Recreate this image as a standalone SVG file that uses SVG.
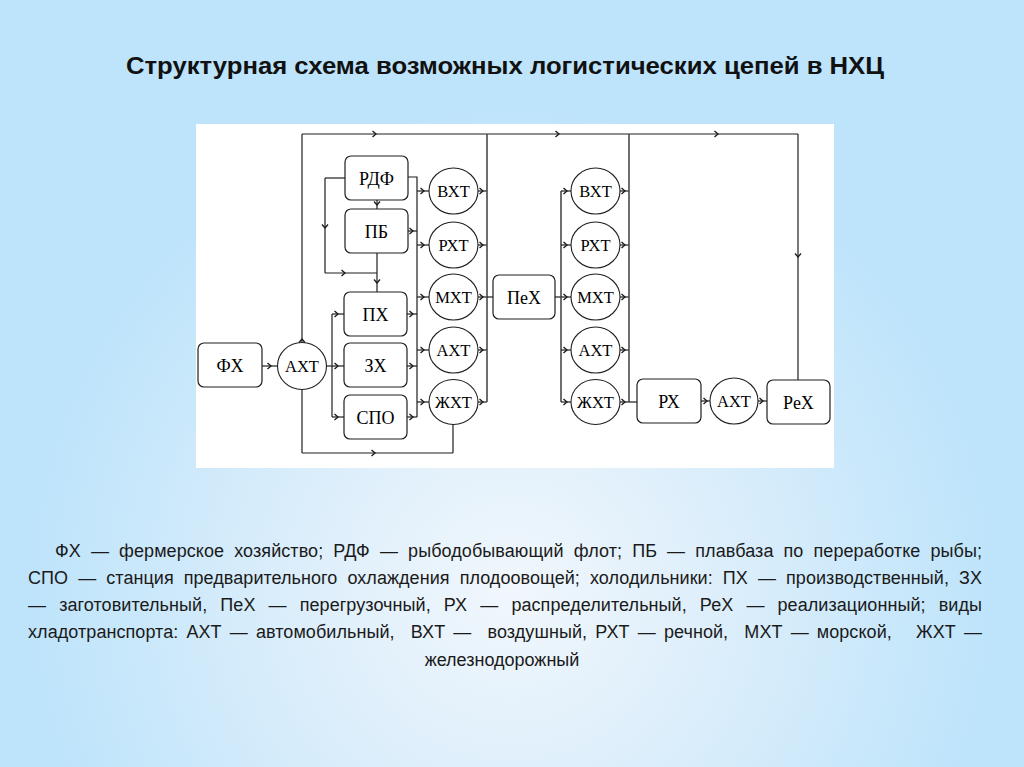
<svg xmlns="http://www.w3.org/2000/svg" width="1024" height="767" viewBox="0 0 1024 767">
<defs>
<radialGradient id="bg" gradientUnits="userSpaceOnUse" cx="512" cy="590" r="480">
<stop offset="0" stop-color="#F1F7FC"/>
<stop offset="0.45" stop-color="#DCEEFB"/>
<stop offset="1" stop-color="#BEE4FB"/>
</radialGradient>
<marker id="ar" viewBox="0 0 8 8" refX="5" refY="4" markerWidth="8" markerHeight="8" markerUnits="userSpaceOnUse" orient="auto">
<path d="M1.5,1 L5,4 L1.5,7" fill="none" stroke="#1a1a1a" stroke-width="1.3"/>
</marker>
<style>
.c{fill:none;stroke:#1f1f1f;stroke-width:1.2}
.m{fill:none;stroke:#1f1f1f;stroke-width:1.2;marker-mid:url(#ar)}
.g{fill:none;stroke:#4a4a4a;stroke-width:1.6}
.box{fill:#fff;stroke:#1f1f1f;stroke-width:1.2}
.cir{fill:#fff;stroke:#1f1f1f;stroke-width:1.1}
.bt{font-family:"Liberation Serif","Times New Roman",serif;font-size:18px;fill:#000;text-anchor:middle}
.ct{font-family:"Liberation Serif","Times New Roman",serif;font-size:16.5px;fill:#000;text-anchor:middle}
.lg{font-family:"Liberation Sans",Arial,sans-serif;font-size:18px;fill:#1a1a1a}
.tt{font-family:"Liberation Sans",Arial,sans-serif;font-size:24px;font-weight:bold;fill:#111;text-anchor:middle}
</style>
</defs>
<rect x="0" y="0" width="1024" height="767" fill="url(#bg)"/>
<text class="tt" x="505" y="74" textLength="758" lengthAdjust="spacingAndGlyphs">Структурная схема возможных логистических цепей в НХЦ</text>
<rect x="196" y="124" width="638" height="344" fill="#fff"/>

<g id="connectors">
<path class="m" d="M262,366 H271 H278"/>
<path class="m" d="M327,366 H338 H344"/>
<path class="c" d="M332,314 V417"/>
<path class="m" d="M332,314 H338 H344"/>
<path class="m" d="M332,417 H338 H344"/>
<path class="m" d="M302,343 V339 V134"/>
<path class="m" d="M302,134 H376 H559 H718 H798"/>
<path class="m" d="M798,134 V257 V380"/>
<path class="c" d="M302,390 V453"/>
<path class="m" d="M302,453 H375 H453"/>
<path class="c" d="M453,453 V424"/>
<path class="c" d="M345,178 H325"/>
<path class="m" d="M325,178 V228 V273"/>
<path class="m" d="M325,273 H345 H377"/>
<path class="m" d="M377,253 V283 V292"/>
<path class="m" d="M377,200 V205 V209"/>
<path class="c" d="M408,177 H417 V417"/>
<path class="m" d="M408,231 H413 H417"/>
<path class="m" d="M407,314 H413 H417"/>
<path class="m" d="M407,366 H413 H417"/>
<path class="m" d="M407,417 H413 H417"/>
<path class="m" d="M417,191 H424 H429"/>
<path class="m" d="M417,245 H424 H429"/>
<path class="m" d="M417,297 H424 H429"/>
<path class="m" d="M417,350 H424 H429"/>
<path class="m" d="M417,402 H424 H429"/>
<path class="m" d="M478,191 H483 H487"/>
<path class="m" d="M478,245 H483 H487"/>
<path class="m" d="M478,297 H483 H487"/>
<path class="m" d="M478,350 H483 H487"/>
<path class="m" d="M478,402 H483 H487"/>
<path class="g" d="M487,134 V402"/>
<path class="c" d="M487,297 H493"/>
<path class="c" d="M555,297 H561"/>
<path class="g" d="M561,191 V402"/>
<path class="m" d="M561,191 H567 H571"/>
<path class="m" d="M561,245 H567 H571"/>
<path class="m" d="M561,297 H567 H571"/>
<path class="m" d="M561,350 H567 H571"/>
<path class="m" d="M561,402 H567 H571"/>
<path class="m" d="M620,191 H625 H629"/>
<path class="m" d="M620,245 H625 H629"/>
<path class="m" d="M620,297 H625 H629"/>
<path class="m" d="M620,350 H625 H629"/>
<path class="m" d="M620,402 H625 H629"/>
<path class="g" d="M629,134 V402"/>
<path class="c" d="M629,402 H637"/>
<path class="m" d="M701,401 H707 H710"/>
<path class="m" d="M758,401 H763 H767"/>
</g>

<g id="n-fh"><rect class="box" x="198" y="343" width="64" height="44" rx="6"/><text class="bt" x="230" y="372">ФХ</text></g>
<g id="n-aht0"><ellipse class="cir" cx="302" cy="366" rx="24.5" ry="23.5"/><text class="ct" x="302" y="372">АХТ</text></g>
<g id="n-rdf"><rect class="box" x="345" y="156" width="63" height="44" rx="6"/><text class="bt" x="376.5" y="185">РДФ</text></g>
<g id="n-pb"><rect class="box" x="345" y="209" width="63" height="44" rx="6"/><text class="bt" x="376.5" y="238">ПБ</text></g>
<g id="n-ph"><rect class="box" x="344" y="292" width="63" height="44" rx="6"/><text class="bt" x="375.5" y="321">ПХ</text></g>
<g id="n-zh"><rect class="box" x="344" y="343" width="63" height="44" rx="6"/><text class="bt" x="375.5" y="372">ЗХ</text></g>
<g id="n-spo"><rect class="box" x="344" y="395" width="63" height="44" rx="6"/><text class="bt" x="375.5" y="424">СПО</text></g>

<g id="n-vht1"><ellipse class="cir" cx="453.5" cy="191" rx="24.5" ry="23"/><text class="ct" x="453.5" y="197">ВХТ</text></g>
<g id="n-rht1"><ellipse class="cir" cx="453.5" cy="245" rx="24.5" ry="23"/><text class="ct" x="453.5" y="251">РХТ</text></g>
<g id="n-mht1"><ellipse class="cir" cx="453.5" cy="297" rx="24.5" ry="23"/><text class="ct" x="453.5" y="303">МХТ</text></g>
<g id="n-aht1"><ellipse class="cir" cx="453.5" cy="350" rx="24.5" ry="23"/><text class="ct" x="453.5" y="356">АХТ</text></g>
<g id="n-zht1"><ellipse class="cir" cx="453.5" cy="402" rx="24.5" ry="22.5"/><text class="ct" x="453.5" y="408">ЖХТ</text></g>

<g id="n-peh"><rect class="box" x="493" y="275" width="62" height="44" rx="6"/><text class="bt" x="524" y="304">ПеХ</text></g>

<g id="n-vht2"><ellipse class="cir" cx="595.5" cy="191" rx="24.5" ry="23"/><text class="ct" x="595.5" y="197">ВХТ</text></g>
<g id="n-rht2"><ellipse class="cir" cx="595.5" cy="245" rx="24.5" ry="23"/><text class="ct" x="595.5" y="251">РХТ</text></g>
<g id="n-mht2"><ellipse class="cir" cx="595.5" cy="297" rx="24.5" ry="23"/><text class="ct" x="595.5" y="303">МХТ</text></g>
<g id="n-aht2"><ellipse class="cir" cx="595.5" cy="350" rx="24.5" ry="23"/><text class="ct" x="595.5" y="356">АХТ</text></g>
<g id="n-zht2"><ellipse class="cir" cx="595.5" cy="402" rx="24.5" ry="22.5"/><text class="ct" x="595.5" y="408">ЖХТ</text></g>

<g id="n-rh"><rect class="box" x="637" y="379" width="64" height="44" rx="6"/><text class="bt" x="669" y="408">РХ</text></g>
<g id="n-aht3"><ellipse class="cir" cx="734" cy="401" rx="24" ry="23"/><text class="ct" x="734" y="407">АХТ</text></g>
<g id="n-reh"><rect class="box" x="767" y="380" width="63" height="44" rx="6"/><text class="bt" x="798.5" y="409">РеХ</text></g>

<g id="legend">
<text class="lg" x="55" y="557" word-spacing="5" textLength="927" lengthAdjust="spacing">ФХ — фермерское хозяйство; РДФ — рыбодобывающий флот; ПБ — плавбаза по переработке рыбы;</text>
<text class="lg" x="28" y="584" word-spacing="5" textLength="954" lengthAdjust="spacing">СПО — станция предварительного охлаждения плодоовощей; холодильники: ПХ — производственный, ЗХ</text>
<text class="lg" x="28" y="611" word-spacing="8" textLength="954" lengthAdjust="spacing">— заготовительный, ПеХ — перегрузочный, РХ — распределительный, РеХ — реализационный; виды</text>
<text class="lg" x="28" y="638" word-spacing="3" textLength="954" lengthAdjust="spacing" xml:space="preserve" style="white-space:pre">хладотранспорта: АХТ — автомобильный,  ВХТ —  воздушный, РХТ — речной,  МХТ — морской,   ЖХТ —</text>
<text class="lg" x="502" y="666" text-anchor="middle">железнодорожный</text>
</g>
</svg>
